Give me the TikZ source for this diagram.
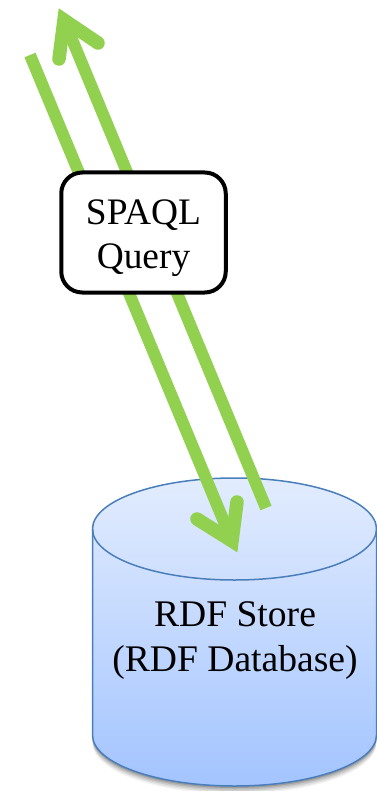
\documentclass[tikz,border=0pt]{standalone}
\usepackage{fontspec}
\setmainfont{Liberation Serif}
\definecolor{flowgreen}{HTML}{92D050}
\definecolor{dbedge}{HTML}{4A7EBB}
\definecolor{dbtop}{HTML}{E2ECFE}
\definecolor{dbbottom}{HTML}{A3C4FF}
\tikzset{
  flow/.style={draw=flowgreen,line width=12pt,line cap=butt},
  flowhead/.style={draw=flowgreen,line width=13.5pt,line cap=round,line join=miter,miter limit=10},
  querybox/.style={draw=black,line width=4pt,fill=white,rounded corners=21pt,minimum width=164.5pt,minimum height=120pt,inner sep=0pt},
  querytext/.style={align=center,inner sep=0pt,font=\fontsize{37.4}{44}\selectfont},
  dblabel/.style={align=center,inner sep=0pt,font=\fontsize{37.6}{45}\selectfont},
  dbedgeline/.style={draw=dbedge,line width=1.5pt}
}
\begin{document}
\begin{tikzpicture}[x=1pt,y=-1pt]
\useasboundingbox (0,0) rectangle (376,791);
% soft shadow under the cylinder
\foreach \g/\o in {8/0.05,6.5/0.07,5/0.09,3.5/0.11,2/0.14}{
  \fill[black,opacity=\o] (92.5,735) arc[start angle=180,end angle=0,x radius=142,y radius=51]
    -- ++(0,\g) arc[start angle=0,end angle=180,x radius=142,y radius=51] -- cycle;
}
% cylinder
\shade[top color=dbtop,bottom color=dbbottom] (92.5,529) arc[start angle=180,end angle=360,x radius=142,y radius=51]
  -- (376.5,735) arc[start angle=0,end angle=180,x radius=142,y radius=51] -- cycle;
\draw[dbedgeline] (92.5,529) arc[start angle=180,end angle=360,x radius=142,y radius=51]
  -- (376.5,735) arc[start angle=0,end angle=180,x radius=142,y radius=51] -- cycle;
\draw[dbedgeline] (92.5,529) arc[start angle=180,end angle=0,x radius=142,y radius=51];
\node[dblabel] (store) at (235,641) {RDF Store\\(RDF Database)};
% up arrow
\coordinate (upfoot) at (266,508);
\coordinate (upapex) at (64,20);
\coordinate (upbarba) at (98,43);
\coordinate (upbarbb) at (59,59);
\draw[flow] (upfoot) -- (upapex);
\draw[flowhead] (upbarba) -- (upapex) -- (upbarbb);
% down arrow
\coordinate (downfoot) at (30,55);
\coordinate (downapex) at (232,541);
\coordinate (downbarba) at (197,519);
\coordinate (downbarbb) at (237,502);
\draw[flow] (downfoot) -- (downapex);
\draw[flowhead] (downbarba) -- (downapex) -- (downbarbb);
% query box
\node[querybox] (query) at (143.5,232.5) {};
\node[querytext] (querytext) at (143.5,238.5) {SPAQL\\Query};
\end{tikzpicture}
\end{document}
